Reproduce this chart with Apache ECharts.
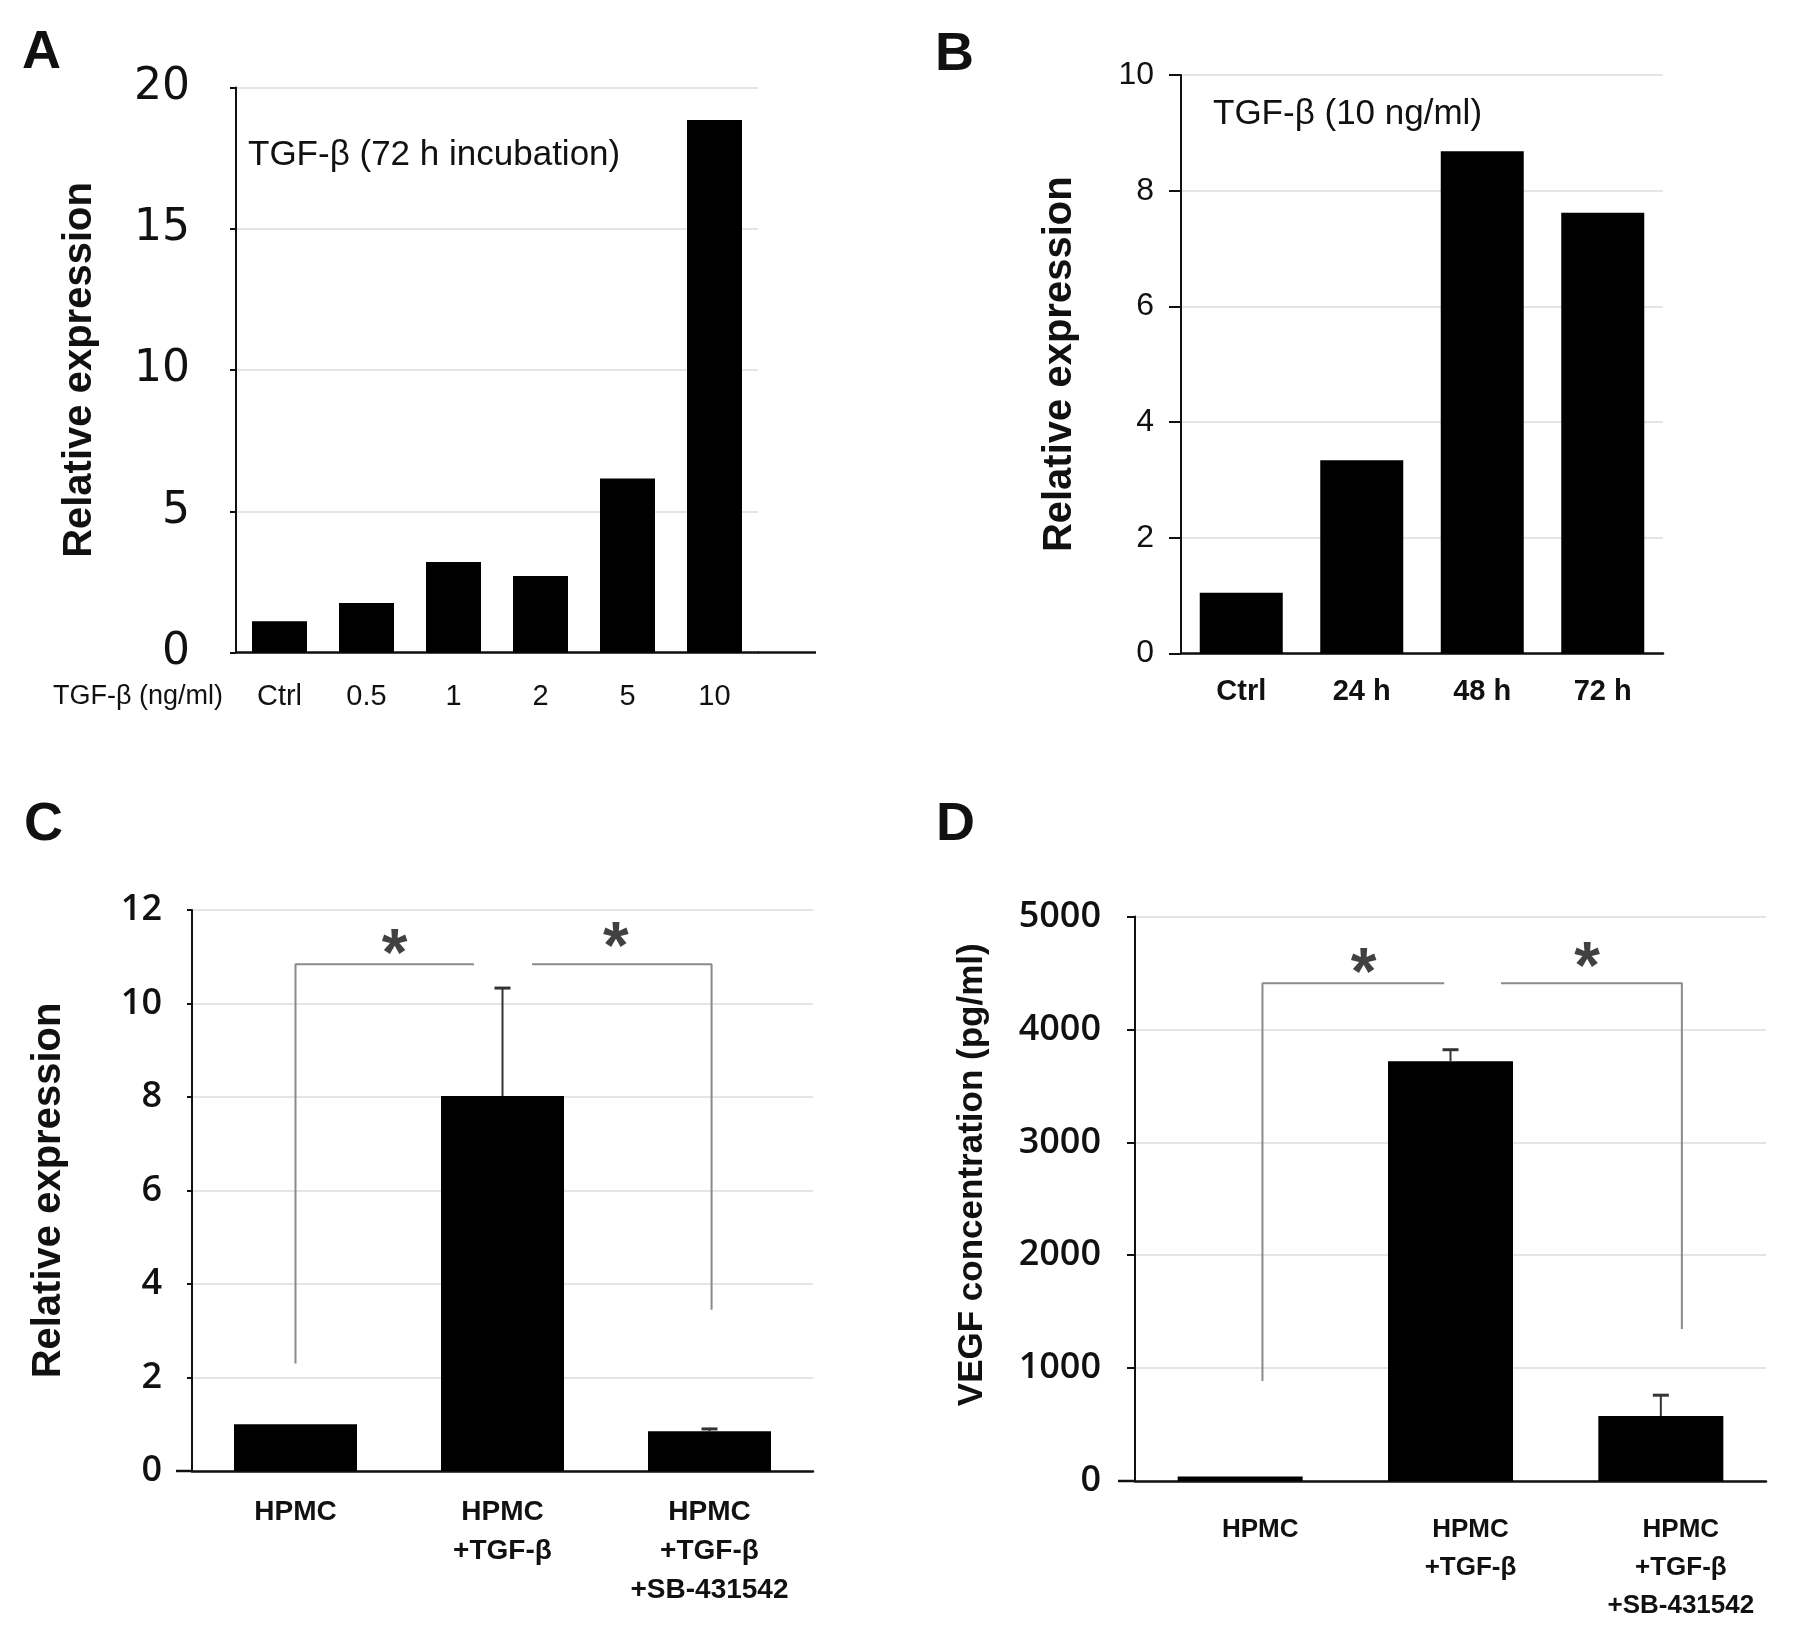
<!DOCTYPE html>
<html>
<head>
<meta charset="utf-8">
<script src="https://cdn.jsdelivr.net/npm/echarts@6/dist/echarts.min.js"></script>
<style>
html, body { margin: 0; padding: 0; background: #fff; }
#chart { width: 1795px; height: 1632px; }
</style>
</head>
<body>
<div id="chart"></div>
<script>
// ---- data ----
var doseLabels = ['Ctrl', '0.5', '1', '2', '5', '10'];
var doseValues = [1.11, 1.75, 3.2, 2.71, 6.16, 18.85];

var timeLabels = ['Ctrl', '24 h', '48 h', '72 h'];
var timeValues = [1.05, 3.34, 8.68, 7.62];

var groupLabels = ['HPMC', 'HPMC\n+TGF-β', 'HPMC\n+TGF-β\n+SB-431542'];
var exprMeans = [1.0, 8.02, 0.85];
var exprErrors = [0, 2.31, 0.05];
var vegfMeans = [40, 3717, 575];
var vegfErrors = [0, 103, 185];

// significance brackets, x in category units
var exprBracketLeft = [[0, 2.3], [0, 10.84], [0.862, 10.84]];
var exprBracketRight = [[1.143, 10.84], [2.01, 10.84], [2.01, 3.45]];
var exprStars = [[0.479, 11.38], [1.548, 11.53]];
var vegfBracketLeft = [[0.106, 886], [0.106, 4409], [0.97, 4409]];
var vegfBracketRight = [[1.24, 4409], [2.10, 4409], [2.10, 1346]];
var vegfStars = [[0.587, 4637], [1.65, 4685]];

// ---- layout ----
var gA = { left: 236, top: 87.5, width: 522, height: 565 };
var gB = { left: 1181, top: 75, width: 482, height: 578.5 };
var gC = { left: 192, top: 910, width: 621, height: 561 };
var gD = { left: 1135, top: 916.5, width: 631, height: 564.5 };

var chart = echarts.init(document.getElementById('chart'));

var gridColor = '#dcdcdc';
var arial = 'Liberation Sans, Arial, sans-serif';

function valueAxis(gi, max, interval, name, nameGap, opts) {
  return {
    type: 'value', gridIndex: gi, min: 0, max: max, interval: interval,
    name: name, nameLocation: 'middle', nameGap: nameGap,
    nameTextStyle: Object.assign({ fontFamily: arial, fontWeight: 'bold', fontSize: 40, color: '#111' }, opts.nameStyle || {}),
    axisLine: { show: true, onZero: false, lineStyle: { color: '#111', width: 2 } },
    axisTick: { show: true, length: opts.tickLen, lineStyle: { color: '#111', width: 2 } },
    axisLabel: Object.assign({ color: '#111', margin: opts.margin, formatter: function (v) { return String(v); } }, opts.label),
    splitLine: { show: true, lineStyle: { color: gridColor, width: 1.5 } }
  };
}

function catAxis(gi, labels, label) {
  return {
    type: 'category', gridIndex: gi, data: labels,
    axisLine: { show: true, lineStyle: { color: '#111', width: 2.5 } },
    axisTick: { show: false },
    axisLabel: Object.assign({ interval: 0, color: '#111' }, label)
  };
}

function bars(xi, yi, values, width) {
  return {
    type: 'bar', xAxisIndex: xi, yAxisIndex: yi, data: values,
    barWidth: width, itemStyle: { color: '#000' }, z: 3
  };
}

function errorSeries(xi, yi, means, errs) {
  return {
    type: 'custom', xAxisIndex: xi, yAxisIndex: yi, z: 5,
    encode: { x: 0, y: [1, 2] },
    data: means.map(function (m, i) { return [i, m, m + errs[i]]; }),
    renderItem: function (params, api) {
      if (api.value(2) - api.value(1) <= 0) return;
      var base = api.coord([api.value(0), api.value(1)]);
      var top = api.coord([api.value(0), api.value(2)]);
      return {
        type: 'group',
        children: [
          { type: 'line', shape: { x1: base[0], y1: base[1], x2: top[0], y2: top[1] },
            style: { stroke: '#333', lineWidth: 2 } },
          { type: 'line', shape: { x1: top[0] - 8, y1: top[1], x2: top[0] + 8, y2: top[1] },
            style: { stroke: '#333', lineWidth: 3 } }
        ]
      };
    }
  };
}

function bracket(xi, yi, pts) {
  return {
    type: 'line', xAxisIndex: xi, yAxisIndex: yi, data: pts,
    symbol: 'none', silent: true, z: 4,
    lineStyle: { color: '#8a8a8a', width: 2 }
  };
}

function stars(xi, yi, pts) {
  return {
    type: 'scatter', xAxisIndex: xi, yAxisIndex: yi, data: pts,
    symbolSize: 1, itemStyle: { color: 'rgba(0,0,0,0)' }, silent: true, z: 6,
    label: {
      show: true, position: 'inside', formatter: '*', offset: [0, 18],
      fontFamily: arial, fontWeight: 'bold', fontSize: 66, color: '#111'
    }
  };
}

function axisExt(g, x1, x2) {
  var y = g.top + g.height;
  return { type: 'line', shape: { x1: x1, y1: y, x2: x2, y2: y },
    style: { stroke: '#111', lineWidth: 2.5 } };
}

function text(x, y, str, size, weight, align) {
  return {
    type: 'text', x: x, y: y,
    style: { text: str, fontFamily: arial, fontSize: size, fontWeight: weight || 'normal',
      fill: '#111', align: align || 'left', verticalAlign: 'middle' }
  };
}

var option = {
  animation: false,
  backgroundColor: '#fff',
  grid: [gA, gB, gC, gD],
  xAxis: [
    catAxis(0, doseLabels, { fontFamily: arial, fontSize: 29, margin: 30 }),
    catAxis(1, timeLabels, { fontFamily: arial, fontSize: 29, fontWeight: 'bold', margin: 24 }),
    catAxis(2, groupLabels, { fontFamily: arial, fontSize: 28, fontWeight: 'bold', lineHeight: 39, margin: 22 }),
    { type: 'value', gridIndex: 2, min: -0.5, max: 2.5, show: false },
    catAxis(3, groupLabels, { fontFamily: arial, fontSize: 26, fontWeight: 'bold', lineHeight: 38, margin: 30, padding: [0, 0, 0, 40] }),
    { type: 'value', gridIndex: 3, min: -0.5, max: 2.5, show: false }
  ],
  yAxis: [
    valueAxis(0, 20, 5, 'Relative expression', 136,
      { tickLen: 6, margin: 46, label: { fontFamily: 'DejaVu Sans', fontSize: 44 } }),
    valueAxis(1, 10, 2, 'Relative expression', 101,
      { tickLen: 12, margin: 27, label: { fontFamily: arial, fontSize: 32 } }),
    valueAxis(2, 12, 2, 'Relative expression', 123,
      { tickLen: 5, margin: 30, label: { fontFamily: 'Open Sans', fontWeight: 600, fontSize: 36 } }),
    valueAxis(3, 5000, 1000, 'VEGF concentration (pg/ml)', 145,
      { tickLen: 8, margin: 34, label: { fontFamily: 'Open Sans', fontWeight: 600, fontSize: 36 },
        nameStyle: { fontSize: 35, padding: [0, 0, 0, 48] } })
  ],
  series: [
    bars(0, 0, doseValues, 55),
    bars(1, 1, timeValues, 83),
    bars(2, 2, exprMeans, 123),
    errorSeries(2, 2, exprMeans, exprErrors),
    bracket(3, 2, exprBracketLeft),
    bracket(3, 2, exprBracketRight),
    stars(3, 2, exprStars),
    bars(4, 3, vegfMeans, 125),
    errorSeries(4, 3, vegfMeans, vegfErrors),
    bracket(5, 3, vegfBracketLeft),
    bracket(5, 3, vegfBracketRight),
    stars(5, 3, vegfStars)
  ],
  graphic: [
    axisExt(gA, gA.left + gA.width, 816),
    axisExt(gC, 176, gC.left),
    axisExt(gD, 1118, gD.left),
    text(22, 53, 'A', 54, 'bold'),
    text(935, 55, 'B', 54, 'bold'),
    text(24, 825, 'C', 54, 'bold'),
    text(936, 825, 'D', 54, 'bold'),
    text(248, 155, 'TGF-β (72 h incubation)', 35),
    text(1213, 114, 'TGF-β (10 ng/ml)', 35),
    text(223, 697, 'TGF-β (ng/ml)', 27, 'normal', 'right')
  ]
};

chart.setOption(option);
</script>
</body>
</html>
